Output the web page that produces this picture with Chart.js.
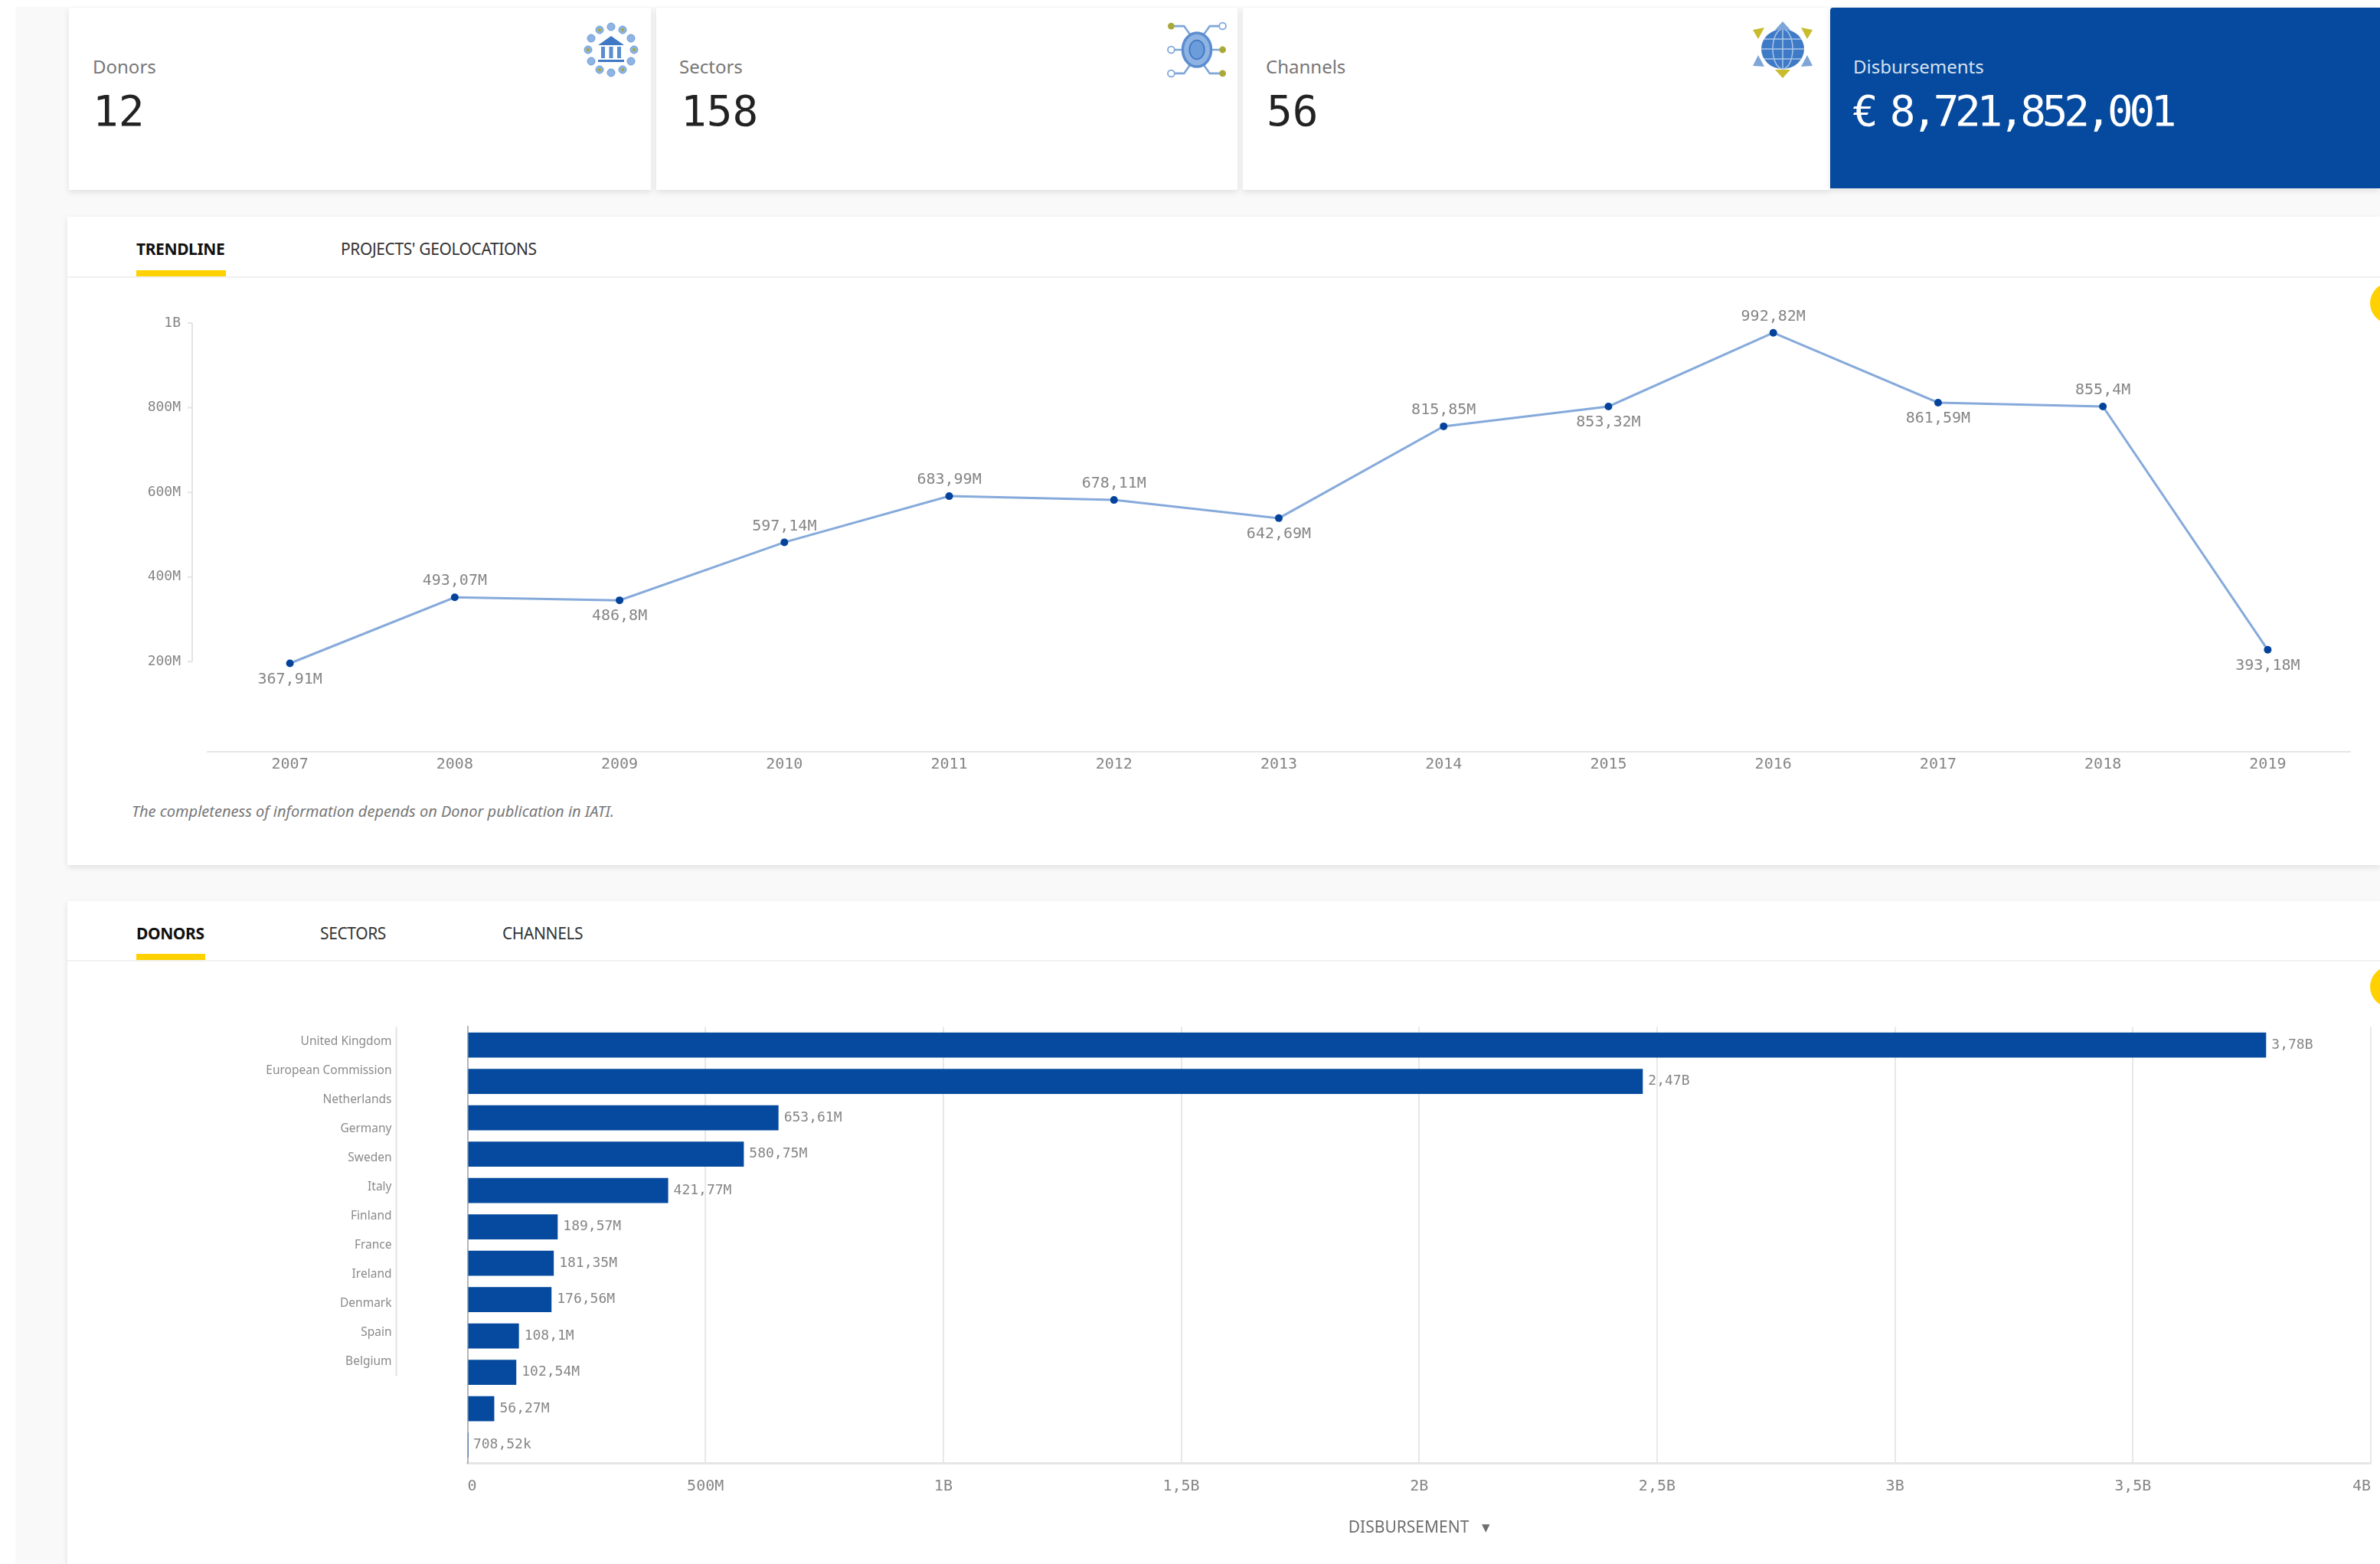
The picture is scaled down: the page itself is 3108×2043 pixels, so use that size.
<!DOCTYPE html>
<html>

<head>
    <title>Disbursements</title>
    <script src="https://cdn.jsdelivr.net/npm/chart.js@4"></script>
    <style>
        html, body { margin: 0; padding: 0; background: #fff; }
        body { width: 3108px; height: 2043px; position: relative; overflow: hidden; font-family: "Noto Sans", sans-serif; }
        .abs { position: absolute; }
        .back { left: 20px; top: 9px; width: 3088px; height: 2034px; background: #f9f9f9; }
        .card { background: #fff; box-shadow: 0 3px 8px rgba(0, 0, 0, .10); }
        .cardlabel { font-size: 24px; color: #777; line-height: 30px; white-space: nowrap; }
        .cardvalue { font-family: "DejaVu Sans Mono", monospace; font-size: 56px; color: #222; line-height: 60px; white-space: nowrap; }
        .tab { font-size: 21px; color: #333; line-height: 26px; white-space: nowrap; letter-spacing: -.4px; }
        .tab.on { font-weight: bold; color: #111; }
        .under { background: #ffd100; height: 8px; }
        .rule { background: #f1f1f1; height: 2px; }
        .dot { width: 54px; height: 54px; border-radius: 50%; background: #ffd100; }
        .note { font-size: 20px; font-style: italic; color: #777; line-height: 24px; white-space: nowrap; }
        canvas { position: absolute; display: block; }
    </style>
    <script>
        var years = ['2007', '2008', '2009', '2010', '2011', '2012', '2013', '2014', '2015', '2016', '2017', '2018', '2019'];
        // where the points sit against the printed axis (the labels do not agree with it in the picture)
        var trendValues = [196e6, 352e6, 345e6, 482e6, 591e6, 582e6, 539e6, 756e6, 803e6, 977e6, 812e6, 803e6, 228e6];
        var trendLabels = ['367,91M', '493,07M', '486,8M', '597,14M', '683,99M', '678,11M', '642,69M', '815,85M', '853,32M', '992,82M', '861,59M', '855,4M', '393,18M'];
        var trendBelow = [0, 2, 6, 8, 10, 12];
        var trendTicks = [200e6, 400e6, 600e6, 800e6, 1e9];

        var donors = ['United Kingdom', 'European Commission', 'Netherlands', 'Germany', 'Sweden', 'Italy', 'Finland', 'France', 'Ireland', 'Denmark', 'Spain', 'Belgium'];
        var donorValues = [3.78e9, 2.47e9, 653.61e6, 580.75e6, 421.77e6, 189.57e6, 181.35e6, 176.56e6, 108.1e6, 102.54e6, 56.27e6, 708.52e3];
        var donorLabels = ['3,78B', '2,47B', '653,61M', '580,75M', '421,77M', '189,57M', '181,35M', '176,56M', '108,1M', '102,54M', '56,27M', '708,52k'];
    </script>
</head>

<body>
    <div class="abs back"></div>

    <div class="abs card" style="left:90px;top:10px;width:760px;height:238px"></div>
    <div class="abs card" style="left:857px;top:10px;width:759px;height:238px"></div>
    <div class="abs card" style="left:1623px;top:10px;width:767px;height:238px"></div>
    <div class="abs card" style="left:2390px;top:10px;width:718px;height:236px;background:#054a9e;border-top-left-radius:4px"></div>

    <div class="abs cardlabel" style="left:121px;top:72px">Donors</div>
    <div class="abs cardvalue" style="left:121px;top:115px">12</div>
    <div class="abs cardlabel" style="left:887px;top:72px">Sectors</div>
    <div class="abs cardvalue" style="left:889px;top:115px">158</div>
    <div class="abs cardlabel" style="left:1653px;top:72px">Channels</div>
    <div class="abs cardvalue" style="left:1654px;top:115px">56</div>
    <div class="abs cardlabel" style="left:2420px;top:72px;color:#d5e0ef">Disbursements</div>
    <div class="abs cardvalue" style="left:2419px;top:115px;color:#fff;letter-spacing:-5.3px">€<span style="margin-left:-8px"> </span>8,721,852,001</div>

    <svg class="abs" id="iconDonors" style="left:755px;top:22px" width="86" height="86" viewBox="0 0 86 86"></svg>
    <svg class="abs" style="left:1521px;top:27px" width="84" height="76" viewBox="0 0 94 86">
        <g fill="none" stroke="#7ea6d8" stroke-width="3">
            <path d="M12 8H28L38 22M82 8H66L56 22M12 43H28M82 43H66M12 78H28L38 64M82 78H66L56 64"/>
        </g>
        <ellipse cx="47" cy="43" rx="21" ry="25" fill="#8fb4e3" stroke="#5b8dd0" stroke-width="4"/>
        <ellipse cx="47" cy="43" rx="11" ry="14" fill="#6d9cdb" stroke="#3f78c4" stroke-width="2"/>
        <circle cx="9" cy="8" r="5" fill="#a9a83a"/><circle cx="85" cy="8" r="5" fill="#fff" stroke="#7ea6d8" stroke-width="2"/>
        <circle cx="9" cy="43" r="5" fill="#fff" stroke="#7ea6d8" stroke-width="2"/><circle cx="85" cy="43" r="5" fill="#a9a83a"/>
        <circle cx="9" cy="78" r="5" fill="#fff" stroke="#7ea6d8" stroke-width="2"/><circle cx="85" cy="78" r="5" fill="#a9a83a"/>
    </svg>
    <svg class="abs" style="left:2285px;top:22px" width="86" height="86" viewBox="0 0 86 86">
        <ellipse cx="43" cy="42" rx="28" ry="26" fill="#3f7ac6"/>
        <g fill="none" stroke="#a9c6ea" stroke-width="1.5">
            <ellipse cx="43" cy="42" rx="13" ry="26"/>
            <path d="M43 16V68M15 42H71M19 29H67M19 55H67"/>
        </g>
        <path d="M43 6L53 17H33Z" fill="#7ea6d8"/>
        <path d="M43 80L53 69H33Z" fill="#c8bb2c"/>
        <path d="M4 17L19 14L11 29Z" fill="#c8bb2c"/>
        <path d="M82 17L67 14L75 29Z" fill="#c8bb2c"/>
        <path d="M11 50L19 65L4 64Z" fill="#7ea6d8"/>
        <path d="M75 50L67 65L82 64Z" fill="#7ea6d8"/>
    </svg>

    <div class="abs card" style="left:88px;top:283px;width:3020px;height:847px"></div>
    <div class="abs tab on" style="left:178px;top:312px">TRENDLINE</div>
    <div class="abs tab" style="left:445px;top:312px">PROJECTS' GEOLOCATIONS</div>
    <div class="abs rule" style="left:88px;top:361px;width:3020px"></div>
    <div class="abs under" style="left:178px;top:353px;width:117px"></div>
    <div class="abs dot" style="left:3095px;top:369px"></div>
    <div class="abs note" style="left:172px;top:1048px">The completeness of information depends on Donor publication in IATI.</div>

    <div class="abs card" style="left:88px;top:1177px;width:3020px;height:866px"></div>
    <div class="abs tab on" style="left:178px;top:1206px">DONORS</div>
    <div class="abs tab" style="left:418px;top:1206px">SECTORS</div>
    <div class="abs tab" style="left:656px;top:1206px">CHANNELS</div>
    <div class="abs rule" style="left:88px;top:1254px;width:3020px"></div>
    <div class="abs under" style="left:178px;top:1246px;width:90px"></div>
    <div class="abs dot" style="left:3095px;top:1262px"></div>

    <canvas id="graficoLinha" style="left:100px;top:400px" width="3008" height="640"></canvas>
    <canvas id="graficoBarras" style="left:100px;top:1300px" width="3008" height="743"></canvas>

    <script>
        var mono = 'DejaVu Sans Mono';
        var gray = '#858585';

        Chart.defaults.animation = false;
        Chart.defaults.responsive = false;
        Chart.defaults.plugins.legend.display = false;
        Chart.defaults.plugins.tooltip.enabled = false;

        function formatTick(v) {
            var text = v >= 1e9 ? (v / 1e9) + 'B' : v > 0 ? (v / 1e6) + 'M' : '0';
            return text.replace('.', ',');
        }

        // fixed axis box, and no extra room asked for the tick labels
        function fixBox(scale, width, height) {
            if (width) scale.width = width;
            if (height) scale.height = height;
            scale.paddingTop = scale.paddingBottom = scale.paddingLeft = scale.paddingRight = 0;
        }

        // donors icon: ring of stars round a small building
        var ring = '';
        for (var i = 0; i < 12; i++) {
            var a = i * Math.PI / 6;
            ring += '<circle cx="' + (43 + 30 * Math.sin(a)) + '" cy="' + (43 - 30 * Math.cos(a)) + '" r="5" fill="#8fb4e3" stroke="#6d9cdb"/>';
            if (i % 2) ring += '<circle cx="' + (43 + 30 * Math.sin(a)) + '" cy="' + (43 - 30 * Math.cos(a)) + '" r="2.2" fill="#a9a83a"/>';
        }
        document.getElementById('iconDonors').innerHTML = ring +
            '<path d="M43 25L60 37H26Z" fill="#3f78c4"/>' +
            '<path d="M30 39H35V54H30ZM40.5 39H45.5V54H40.5ZM51 39H56V54H51Z" fill="#5b8dd0"/>' +
            '<rect x="26" y="56" width="34" height="3" fill="#3f78c4"/>';

        var trendLabelPlugin = {
            id: 'trendLabelPlugin',
            afterDraw: function (chart) {
                var ctx = chart.ctx;
                var yScale = chart.scales.y;
                var axisX = yScale.right - 20;
                var top = yScale.getPixelForValue(trendTicks[trendTicks.length - 1]);
                var bottom = yScale.getPixelForValue(trendTicks[0]);

                // the y axis line only runs between its first and last tick
                ctx.save();
                ctx.strokeStyle = '#e3e3e3';
                ctx.lineWidth = 2;
                ctx.beginPath();
                ctx.moveTo(axisX, top);
                ctx.lineTo(axisX, bottom);
                trendTicks.forEach(function (t) {
                    var py = yScale.getPixelForValue(t);
                    ctx.moveTo(axisX - 6, py);
                    ctx.lineTo(axisX, py);
                });
                ctx.stroke();

                ctx.font = '20px "' + mono + '"';
                ctx.fillStyle = gray;
                ctx.textAlign = 'center';
                ctx.textBaseline = 'middle';
                chart.getDatasetMeta(0).data.forEach(function (point, idx) {
                    var below = trendBelow.indexOf(idx) !== -1;
                    ctx.fillText(trendLabels[idx], point.x, point.y + (below ? 21 : -21));
                });
                ctx.restore();
            }
        };

        new Chart(document.getElementById('graficoLinha').getContext('2d'), {
            type: 'line',
            data: {
                labels: years,
                datasets: [{
                    data: trendValues,
                    borderColor: '#86aadb',
                    borderWidth: 3,
                    tension: 0,
                    pointRadius: 5,
                    pointBackgroundColor: '#05439b',
                    pointBorderWidth: 0
                }]
            },
            options: {
                layout: { autoPadding: false, padding: { top: 22, right: 39, bottom: 0, left: 0 } },
                scales: {
                    x: {
                        offset: true,
                        afterFit: function (scale) { fixBox(scale, 0, 58.5); },
                        grid: { drawOnChartArea: false, drawTicks: false },
                        border: { color: '#e6e6e6', width: 2 },
                        ticks: { color: gray, font: { family: mono, size: 20 }, padding: 5, maxRotation: 0 }
                    },
                    y: {
                        min: -12e6,
                        max: 1e9,
                        afterFit: function (scale) { fixBox(scale, 171, 0); },
                        afterBuildTicks: function (scale) {
                            scale.ticks = trendTicks.map(function (v) { return { value: v }; });
                        },
                        grid: { display: false, drawTicks: false },
                        border: { display: false },
                        ticks: { color: gray, font: { family: mono, size: 18 }, padding: 35, callback: formatTick }
                    }
                }
            },
            plugins: [trendLabelPlugin]
        });

        var barLabelPlugin = {
            id: 'barLabelPlugin',
            afterDraw: function (chart) {
                var ctx = chart.ctx;
                var names = chart.scales.yNames;
                var halfBand = (names.getPixelForValue(1) - names.getPixelForValue(0)) / 2;

                ctx.save();
                ctx.strokeStyle = '#e3e3e3';
                ctx.lineWidth = 2;
                ctx.beginPath();
                ctx.moveTo(names.right, names.top);
                ctx.lineTo(names.right, names.getPixelForValue(donors.length - 1) + halfBand);
                ctx.stroke();

                ctx.font = '18px "' + mono + '"';
                ctx.fillStyle = gray;
                ctx.textAlign = 'left';
                ctx.textBaseline = 'middle';
                chart.getDatasetMeta(0).data.forEach(function (bar, idx) {
                    ctx.fillText(donorLabels[idx], bar.x + 7, bar.y);
                });
                ctx.restore();
            }
        };

        new Chart(document.getElementById('graficoBarras').getContext('2d'), {
            type: 'bar',
            data: {
                labels: donors,
                datasets: [{
                    data: donorValues,
                    backgroundColor: '#054a9e',
                    categoryPercentage: 1,
                    barPercentage: 0.69,
                    yAxisID: 'y'
                }]
            },
            options: {
                indexAxis: 'y',
                layout: { autoPadding: false, padding: { top: 41.4, right: 12, bottom: 31, left: 0 } },
                scales: {
                    x: {
                        min: 0,
                        max: 4e9,
                        afterFit: function (scale) { fixBox(scale, 0, 100.6); },
                        grid: { color: '#e8e8e8', lineWidth: 2, drawTicks: false },
                        border: { color: '#e6e6e6', width: 3 },
                        ticks: { stepSize: 5e8, color: gray, font: { family: mono, size: 20 }, padding: 18, align: 'inner', maxRotation: 0, callback: formatTick },
                        title: { display: true, text: 'DISBURSEMENT   ▾', color: '#6e6e6e', font: { family: 'Noto Sans', size: 21 }, padding: 3 }
                    },
                    y: {
                        afterFit: function (scale) { fixBox(scale, 93, 0); },
                        grid: { display: false, drawTicks: false },
                        border: { color: '#b5b5b5', width: 2 },
                        ticks: { display: false }
                    },
                    // names sit on their own tighter axis, they do not line up with the bars
                    yNames: {
                        type: 'category',
                        axis: 'y',
                        position: 'left',
                        weight: 1,
                        offset: true,
                        labels: donors.concat(['', '', '']),
                        afterFit: function (scale) { fixBox(scale, 417.5, 0); },
                        grid: { display: false, drawTicks: false },
                        border: { display: false },
                        ticks: { color: '#8a8a8a', autoSkip: false, font: { family: 'Noto Sans', size: 15.5 }, padding: 6 }
                    }
                }
            },
            plugins: [barLabelPlugin]
        });
    </script>
</body>

</html>
